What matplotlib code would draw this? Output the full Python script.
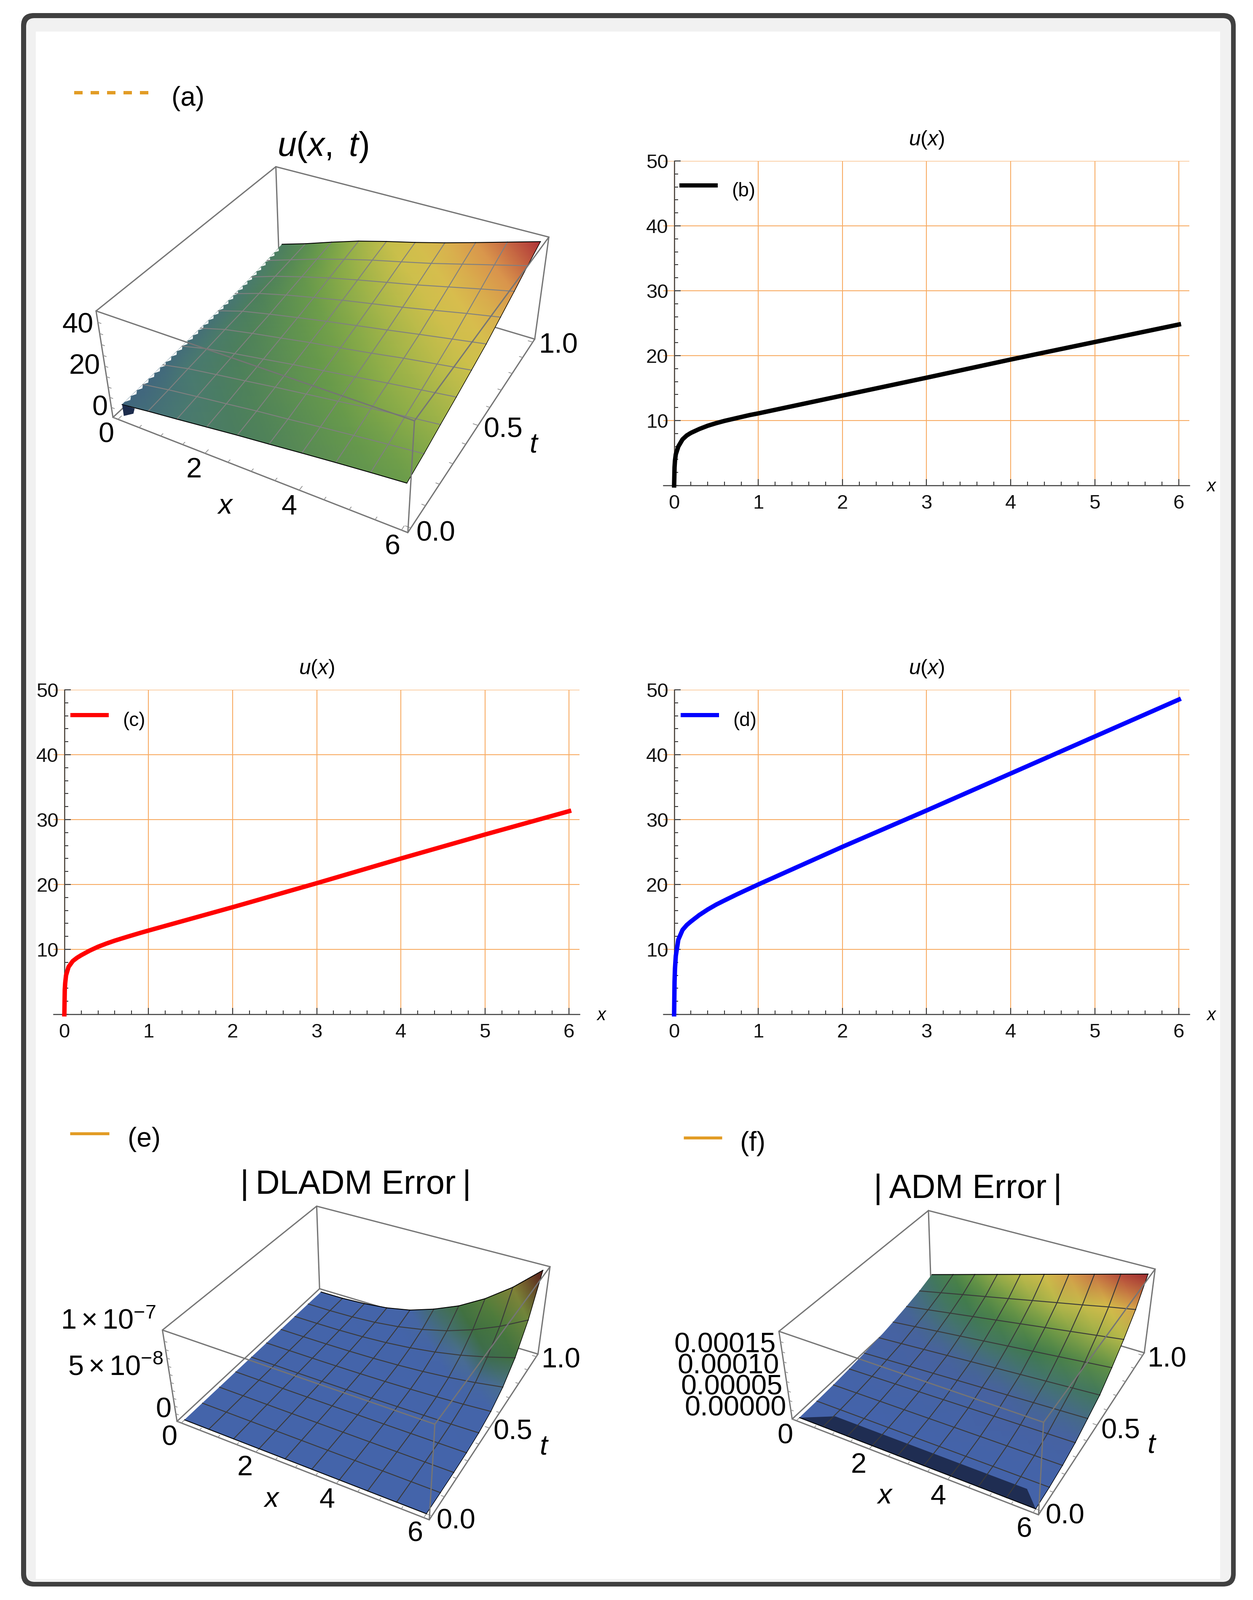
import matplotlib
matplotlib.use('Agg')
import matplotlib.pyplot as plt
import numpy as np
from matplotlib.colors import LinearSegmentedColormap
from matplotlib.lines import Line2D
from matplotlib.patches import FancyBboxPatch, Rectangle
from matplotlib.ticker import MultipleLocator

W, H = 2973, 3797
PT = 0.72  # points per pixel at dpi 100

plt.rcParams['font.family'] = ['Liberation Sans', 'DejaVu Sans']
plt.rcParams['mathtext.fontset'] = 'custom'
plt.rcParams['mathtext.rm'] = 'Liberation Sans'
plt.rcParams['mathtext.it'] = 'Liberation Sans:italic'

# line panels (b), (c), (d)
curve_x = [0, 0.005, 0.01, 0.02, 0.05, 0.1, 0.15, 0.2, 0.3, 0.4, 0.5, 0.6, 0.75, 0.9, 1, 2, 3, 4, 5, 6]
curve_b = [0, 2.8, 3.8, 4.8, 6.0, 7.1, 7.7, 8.1, 8.7, 9.2, 9.6, 9.95, 10.4, 10.85, 11.1, 13.85, 16.6, 19.4, 22.1, 24.8]
curve_c = [0, 3.8, 4.8, 6.0, 7.3, 8.2, 8.7, 9.1, 9.8, 10.4, 10.9, 11.35, 11.95, 12.53, 12.9, 16.5, 20.2, 24.0, 27.7, 31.3]
curve_d = [0, 5.0, 7.0, 9.0, 11.5, 13.0, 13.75, 14.3, 15.3, 16.15, 16.9, 17.55, 18.5, 19.4, 20.0, 25.8, 31.4, 37.1, 42.8, 48.5]

# surface grid, panels (e) and (f) start at x = 0
grid_x_a = [0.05, 0.667, 1.333, 2.0, 2.667, 3.333, 4.0, 4.667, 5.333, 6.0]
grid_x = [0, 0.667, 1.333, 2.0, 2.667, 3.333, 4.0, 4.667, 5.333, 6.0]
grid_t = [0, 0.111, 0.222, 0.333, 0.444, 0.556, 0.667, 0.778, 0.889, 1.0]

surface_a = [
    [6.0, 7.7, 9.3, 11.0, 12.7, 14.2, 15.8, 17.3, 18.7, 20.0],
    [6.4, 8.5, 10.4, 12.2, 14.1, 15.7, 17.5, 19.2, 20.8, 22.3],
    [6.9, 9.6, 11.7, 13.7, 15.8, 17.7, 19.6, 21.6, 23.4, 25.1],
    [7.4, 10.5, 12.9, 15.1, 17.4, 19.4, 21.5, 23.7, 25.7, 27.7],
    [7.9, 11.5, 14.2, 16.6, 19.1, 21.3, 23.6, 26.1, 28.3, 30.5],
    [8.4, 12.3, 15.3, 18.1, 20.8, 23.3, 25.8, 28.4, 30.9, 33.4],
    [9.2, 13.3, 16.8, 19.9, 22.9, 25.6, 28.3, 31.3, 34.3, 37.1],
    [10.1, 14.3, 18.2, 21.8, 25.0, 28.0, 31.0, 34.3, 37.6, 40.8],
    [11.2, 15.3, 19.7, 23.6, 27.2, 30.4, 33.7, 37.4, 41.1, 44.8],
    [12.5, 16.4, 21.1, 25.5, 29.2, 32.6, 36.3, 40.3, 44.4, 48.5],
]

# units of 1e-8
surface_e = [
    [0, 0, 0, 0, 0, 0, 0, 0, 0, 0],
    [0, 0, 0, 0, 0, 0, 0, 0, 0, 0],
    [0, 0, 0, 0.001, 0.001, 0.002, 0.004, 0.007, 0.01, 0.014],
    [0, 0, 0.001, 0.003, 0.008, 0.015, 0.026, 0.041, 0.062, 0.088],
    [0, 0, 0.003, 0.011, 0.027, 0.053, 0.091, 0.145, 0.216, 0.308],
    [0, 0.001, 0.009, 0.031, 0.073, 0.142, 0.245, 0.388, 0.579, 0.825],
    [0, 0.003, 0.02, 0.069, 0.163, 0.318, 0.548, 0.869, 1.3, 1.85],
    [0, 0.006, 0.05, 0.16, 0.37, 0.70, 1.18, 1.82, 2.65, 3.63],
    [0, 0.012, 0.1, 0.31, 0.7, 1.32, 2.15, 3.3, 4.75, 6.56],
    [0, 0.02, 0.2, 0.55, 1.2, 2.3, 3.7, 5.6, 8.0, 11.0],
]

# units of 1e-5
surface_f = [
    [0, 0, 0, 0, 0, 0, 0, 0, 0, 0],
    [0.05, 0.07, 0.09, 0.10, 0.12, 0.14, 0.15, 0.17, 0.19, 0.21],
    [0.17, 0.23, 0.29, 0.34, 0.40, 0.46, 0.52, 0.57, 0.63, 0.69],
    [0.39, 0.52, 0.65, 0.77, 0.90, 1.03, 1.16, 1.29, 1.42, 1.55],
    [0.73, 0.97, 1.22, 1.46, 1.71, 1.95, 2.19, 2.44, 2.68, 2.92],
    [1.08, 1.43, 1.79, 2.15, 2.51, 2.87, 3.23, 3.58, 3.94, 4.3],
    [1.68, 2.23, 2.80, 3.35, 3.91, 4.47, 5.03, 5.59, 6.15, 6.71],
    [2.37, 3.15, 3.94, 4.73, 5.52, 6.31, 7.1, 7.88, 8.67, 9.46],
    [3.18, 4.24, 5.31, 6.36, 7.42, 8.49, 9.55, 10.6, 11.7, 12.7],
    [4.3, 5.73, 7.17, 8.6, 10.03, 11.47, 12.9, 14.33, 15.77, 17.2],
]

# dark sides of the surfaces, x, t, z
wedge_a_x = [0.05, 0.35, 0.3, 0.05]
wedge_a_t = [0, 0, 0, 0]
wedge_a_z = [6.0, 6.5, 3.5, 0.3]
band_f_x = [0, 6, 5.6, 0.7]
band_f_t = [0, 0, 0.07, 0.07]
band_f_z = [0, 0, 5e-7, 5e-7]

colors_a = [(0.0, '#3d5f7c'), (0.13, '#41667f'), (0.2, '#4a7a70'), (0.27, '#4c7f5c'),
            (0.41, '#6a9c4a'), (0.5, '#93b048'), (0.62, '#cbc04b'), (0.72, '#d9bd4e'),
            (0.85, '#d9924c'), (1.0, '#ae3037')]
colors_e = [(0.0, '#4464aa'), (0.1, '#4464a8'), (0.17, '#4a6f8e'), (0.25, '#3b6b45'),
            (0.45, '#4a7a3c'), (0.65, '#7a8a3a'), (0.8, '#8a7a35'), (1.0, '#5a1a1a')]
colors_f = [(0.0, '#4463aa'), (0.12, '#47629f'), (0.22, '#447668'), (0.3, '#3f7a4a'),
            (0.42, '#6f9a45'), (0.55, '#b5b84a'), (0.68, '#d4bd4a'), (0.78, '#d6924a'),
            (0.92, '#b4463a'), (1.0, '#a02c32')]


def pixel_axes(zorder):
    ax = fig.add_axes([0, 0, 1, 1], zorder=zorder)
    ax.set_xlim(0, W)
    ax.set_ylim(H, 0)
    ax.axis('off')
    return ax


def fit_camera(corners):
    rows, rhs = [], []
    for (u, v, w), (px, py) in corners.items():
        rows.append([u, v, w, 1, 0, 0, 0, 0, -px * u, -px * v, -px * w])
        rows.append([0, 0, 0, 0, u, v, w, 1, -py * u, -py * v, -py * w])
        rhs += [px, py]
    sol = np.linalg.lstsq(np.array(rows, float), np.array(rhs, float), rcond=None)[0]
    return np.append(sol, 1).reshape(3, 4)


def line_panel(left_px, base_px, xs, ys, color, title, label, legend_xy):
    ux, uy = 199.6, 15.4
    x_lo, x_hi = -0.13, 6.125
    ax = fig.add_axes([(left_px + x_lo * ux) / W, (H - base_px) / H,
                       (x_hi - x_lo) * ux / W, 50 * uy / H], zorder=2)
    ax.patch.set_alpha(0)
    ax.set_xlim(x_lo, x_hi)
    ax.set_ylim(0, 50)
    ax.grid(True, color='#f8ab62', lw=1.5)
    ax.set_axisbelow(True)
    line, = ax.plot(xs, ys, color=color, lw=10.5 * PT, label=label,
                    solid_capstyle='projecting', clip_on=False, zorder=5)
    for side in ['top', 'right']:
        ax.spines[side].set_visible(False)
    ax.spines['left'].set_position(('data', 0))
    for side in ['left', 'bottom']:
        ax.spines[side].set_color('#404040')
        ax.spines[side].set_linewidth(1.8)
    ax.set_xticks(range(0, 7))
    ax.set_yticks(range(10, 60, 10))
    ax.xaxis.set_minor_locator(MultipleLocator(0.2))
    ax.yaxis.set_minor_locator(MultipleLocator(2))
    ax.tick_params(which='major', direction='in', length=15 * PT, width=1.6,
                   color='#303030', labelsize=34, labelcolor='#111111')
    ax.tick_params(which='minor', direction='in', length=9 * PT, width=1.5, color='#303030')
    ax.tick_params(axis='x', which='major', pad=15)
    ax.tick_params(axis='y', which='major', pad=10)
    ax.text(left_px + 3 * ux, base_px - 50 * uy - 50, title, fontsize=36, ha='center',
            va='center', transform=overlay.transData)
    ax.text(left_px + 6.39 * ux, base_px + 3, r'$x$', fontsize=30, ha='center',
            va='center', transform=overlay.transData)
    leg = ax.legend(handles=[line], loc='upper left', bbox_to_anchor=legend_xy,
                    bbox_transform=overlay.transData, frameon=False, fontsize=33,
                    handlelength=1.98, handletextpad=0.72, borderpad=0, borderaxespad=0)
    leg.get_lines()[0].set_linewidth(10 * PT)
    leg.get_lines()[0].set_solid_capstyle('butt')
    leg.get_texts()[0].set_y(-10)
    return ax


def surface_panel(corners, xs, ts, zs, z_scale, z_max, stops, mesh_color,
                  title, title_xy, title_size, key, key_xy, key_len, key_pad, key_dash,
                  z_ticks, z_labels, x_labels, t_labels, x_name_xy, t_name_xy):
    ax = pixel_axes(3)
    cam = fit_camera(corners)
    x_lo, x_hi, t_lo, t_hi = -0.12, 6.12, -0.02, 1.02

    def project(x, t, z):
        x, t, z = np.asarray(x, float), np.asarray(t, float), np.asarray(z, float)
        hom = cam @ np.array([(x - x_lo) / (x_hi - x_lo), (t - t_lo) / (t_hi - t_lo),
                              z / z_max, np.ones_like(x)])
        return hom[0] / hom[2], hom[1] / hom[2]

    def box_edge(a, b, zorder):
        px, py = project([x_lo if a[0] == 0 else x_hi, x_lo if b[0] == 0 else x_hi],
                         [t_lo if a[1] == 0 else t_hi, t_lo if b[1] == 0 else t_hi],
                         [a[2] * z_max, b[2] * z_max])
        ax.plot(px, py, color='#757575', lw=2.2, zorder=zorder, solid_capstyle='round')

    for a, b in [((0, 1, 0), (0, 1, 1)), ((0, 1, 1), (0, 0, 1)), ((0, 1, 1), (1, 1, 1)),
                 ((0, 0, 0), (0, 0, 1)), ((0, 0, 0), (1, 0, 0)), ((0, 0, 0), (0, 1, 0)),
                 ((1, 0, 0), (1, 1, 0)), ((1, 1, 0), (0, 1, 0)), ((1, 1, 0), (1, 1, 1))]:
        box_edge(a, b, 1)

    # tick marks on the box edges
    for x in np.arange(0, 6.5, 0.5):
        dt = 0.018 if x % 2 == 0 else 0.012
        ax.plot(*project([x, x], [t_lo, t_lo + dt], [0, 0]), color='#8a8a8a', lw=1.2, zorder=1)
    for t in np.arange(0, 1.05, 0.1):
        dx = 0.1 if round(t * 10) % 5 == 0 else 0.07
        ax.plot(*project([x_hi, x_hi - dx], [t, t], [0, 0]), color='#8a8a8a', lw=1.2, zorder=1)
    for z in z_ticks:
        ax.plot(*project([x_lo, x_lo + 0.07], [t_lo, t_lo], [z, z]), color='#8a8a8a', lw=1.2, zorder=1)

    gx, gt = np.meshgrid(xs, ts)
    gz = np.array(zs, float) * z_scale
    px, py = project(gx.ravel(), gt.ravel(), gz.ravel())
    n_t, n_x = gx.shape
    tris = []
    for i in range(n_t - 1):
        for j in range(n_x - 1):
            p = i * n_x + j
            tris += [[p, p + 1, p + n_x], [p + 1, p + n_x + 1, p + n_x]]
    cmap = LinearSegmentedColormap.from_list('surf', stops)
    ax.tripcolor(px, py, tris, gz.ravel(), shading='gouraud', cmap=cmap,
                 vmin=0, vmax=gz.max(), zorder=2)

    mx, my = px.reshape(n_t, n_x), py.reshape(n_t, n_x)
    for i in range(1, n_t - 1):
        ax.plot(mx[i], my[i], color=mesh_color, lw=1.6, zorder=2.2)
    for j in range(1, n_x - 1):
        ax.plot(mx[:, j], my[:, j], color=mesh_color, lw=1.6, zorder=2.2)
    ax.plot(mx[0], my[0], color='black', lw=1.5, zorder=2.3)
    ax.plot(mx[-1], my[-1], color='black', lw=1.5, zorder=2.3)
    ax.plot(mx[:, -1], my[:, -1], color='black', lw=1.0, zorder=2.3)

    for a, b in [((0, 0, 1), (1, 0, 1)), ((1, 0, 1), (1, 1, 1)), ((1, 0, 0), (1, 0, 1))]:
        box_edge(a, b, 3)

    ax.text(*title_xy, title, fontsize=title_size, ha='center', va='center', zorder=5)
    for (tx, ty), s in z_labels + x_labels + t_labels:
        ax.text(tx, ty, s, fontsize=48, ha='center', va='center', zorder=5)
    ax.text(*x_name_xy, r'$x$', fontsize=48, ha='center', va='center', zorder=5)
    ax.text(*t_name_xy, r'$t$', fontsize=48, ha='center', va='center', zorder=5)

    style = (0, (20 / 8, 19 / 8)) if key_dash else '-'
    handle = Line2D([], [], color='#e29c25', lw=(8 if key_dash else 7) * PT,
                    linestyle=style, dash_capstyle='butt', solid_capstyle='butt')
    leg = ax.legend(handles=[handle], labels=[key], loc='upper left', bbox_to_anchor=key_xy,
                    bbox_transform=ax.transData, frameon=False, fontsize=46,
                    handlelength=key_len / (46 / PT), handletextpad=key_pad / (46 / PT),
                    borderpad=0, borderaxespad=0)
    leg.get_texts()[0].set_y(-9)
    return ax, project


fig = plt.figure(figsize=(W / 100, H / 100), dpi=100, facecolor='white')

frame = pixel_axes(0)
frame.add_patch(FancyBboxPatch((50, 31), 2882, 3734, boxstyle='round,pad=0,rounding_size=30',
                               fc='#404040', ec='none'))
frame.add_patch(FancyBboxPatch((62, 43), 2859, 3711, boxstyle='round,pad=0,rounding_size=20',
                               fc='#f1f1f1', ec='none'))
frame.add_patch(Rectangle((85, 75), 2810, 3672, fc='white', ec='none'))

overlay = pixel_axes(1)

line_panel(1599.5, 1152, curve_x, curve_b, 'black', r'$u(x)$', '(b)', (1612, 422))
line_panel(152.7, 2407, curve_x, curve_c, 'red', r'$u(x)$', '(c)', (167, 1679))
line_panel(1599.5, 2407, curve_x, curve_d, 'blue', r'$u(x)$', '(d)', (1615, 1679))

ax_a, project_a = surface_panel(
    {(0, 0, 0): (268, 990), (1, 0, 0): (968, 1264), (1, 1, 0): (1269, 804), (0, 1, 0): (662, 625),
     (0, 0, 1): (228, 738), (1, 0, 1): (983, 999), (1, 1, 1): (1302, 563), (0, 1, 1): (655, 395)},
    grid_x_a, grid_t, surface_a, 1.0, 50.0, colors_a, '#808080',
    r'$u(x,\ t)$', (766, 349), 58, '(a)', (176, 195), 177, 54, True,
    list(range(0, 50, 5)),
    [((185, 772), '40'), ((201, 871), '20'), ((237, 969), '0')],
    [((252, 1033), '0'), ((460, 1116), '2'), ((686, 1204), '4'), ((931, 1299), '6')],
    [((1034, 1267), '0.0'), ((1194, 1020), '0.5'), ((1325, 821), '1.0')],
    (535, 1202), (1267, 1056))
px, py = project_a(wedge_a_x, wedge_a_t, wedge_a_z)
ax_a.fill(px, py, color='#1c2c4c', zorder=2.4, lw=0)
# the left edge of surface (a) is stepped, cut small notches out of it
edge_z = [row[0] for row in surface_a]
for t in np.arange(0.03, 0.97, 0.032):
    z_mid = np.interp(t, grid_t, edge_z)
    nx, ny = project_a([0.05, 0.05, 0.11], [t - 0.016, t + 0.016, t], [z_mid, z_mid, z_mid])
    ax_a.fill(nx, ny, color='white', zorder=2.1, lw=0)

surface_panel(
    {(0, 0, 0): (419, 3372), (1, 0, 0): (1018, 3606), (1, 1, 0): (1277, 3214), (0, 1, 0): (759, 3059),
     (0, 0, 1): (386, 3157), (1, 0, 1): (1033, 3381), (1, 1, 1): (1304, 3005), (0, 1, 1): (751, 2862)},
    grid_x, grid_t, surface_e, 1e-8, 1.13e-7, colors_e, '#3a3a3a',
    '|\u2009DLADM Error\u2009|', (844, 2812), 57, '(e)', (166, 2665), 93, 44, False,
    [z * 1e-8 for z in range(0, 11)],
    [((257, 3137), r'$1\times10^{-7}$'), ((274, 3247), r'$5\times10^{-8}$'), ((388, 3346), '0')],
    [((402, 3413), '0'), ((581, 3484), '2'), ((776, 3561), '4'), ((985, 3641), '6')],
    [((1082, 3610), '0.0'), ((1217, 3399), '0.5'), ((1331, 3229), '1.0')],
    (645, 3559), (1291, 3435))

ax_f, project_f = surface_panel(
    {(0, 0, 0): (1880, 3368), (1, 0, 0): (2464, 3595), (1, 1, 0): (2715, 3210), (0, 1, 0): (2209, 3060),
     (0, 0, 1): (1848, 3159), (1, 0, 1): (2476, 3375), (1, 1, 1): (2741, 3012), (0, 1, 1): (2203, 2873)},
    grid_x, grid_t, surface_f, 1e-5, 1.8e-4, colors_f, '#3a3a3a',
    '|\u2009ADM Error\u2009|', (2296, 2822), 57, '(f)', (1622, 2675), 91, 43, False,
    [z * 1e-5 for z in range(0, 18, 2)],
    [((1720, 3192), '0.00015'), ((1728, 3243), '0.00010'), ((1736, 3293), '0.00005'), ((1745, 3342), '0.00000')],
    [((1863, 3408), '0'), ((2037, 3478), '2'), ((2226, 3553), '4'), ((2430, 3631), '6')],
    [((2527, 3599), '0.0'), ((2659, 3396), '0.5'), ((2769, 3227), '1.0')],
    (2100, 3551), (2733, 3430))
px, py = project_f(band_f_x, band_f_t, band_f_z)
ax_f.fill(px, py, color='#1f2d52', zorder=2.1, lw=0)

fig.savefig('out.png', dpi=100, facecolor='white')
